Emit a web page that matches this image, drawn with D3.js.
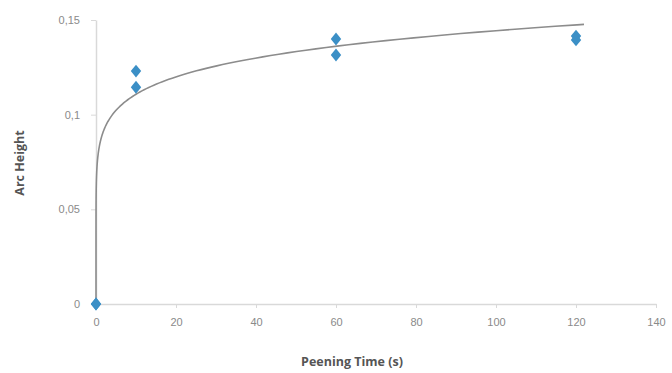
<!DOCTYPE html>
<html>
<head>
<meta charset="utf-8">
<script src="https://cdn.jsdelivr.net/npm/d3@7"></script>
<style>
  body { margin: 0; background: #fff; }
  svg { font-family: "Open Sans", "Liberation Sans", sans-serif; }
</style>
</head>
<body>
<div id="chart"></div>
<script>
// measured points
var peeningTime = [0, 0, 10, 10, 60, 60, 120, 120];
var arcHeight = [0, 0, 0.123, 0.1145, 0.140, 0.1315, 0.1415, 0.1395];

// tick labels
var xTicks = [0, 20, 40, 60, 80, 100, 120, 140];
var yTicks = [0, 0.05, 0.1, 0.15];

// power trendline y = a * x^b
var trendA = 0.085;
var trendB = 0.115;
var trendEnd = 122;

var width = 672, height = 373;
var margin = { left: 96, top: 20, right: 16, bottom: 69 };

var svg = d3.select("#chart").append("svg")
    .attr("width", width)
    .attr("height", height);

var x_scale = d3.scaleLinear().domain([0, 140]).range([margin.left, width - margin.right]);
var y_scale = d3.scaleLinear().domain([0, 0.15]).range([height - margin.bottom, margin.top]);

var fmt = function (d) { return String(d).replace(".", ","); };

// axes
var x_axis = d3.axisBottom(x_scale).tickValues(xTicks).tickSize(4).tickSizeOuter(0).tickPadding(10);
var y_axis = d3.axisLeft(y_scale).tickValues(yTicks).tickSize(5).tickSizeOuter(0).tickPadding(11).tickFormat(fmt);

var gx = svg.append("g")
    .attr("transform", "translate(0," + y_scale(0) + ")")
    .call(x_axis);
var gy = svg.append("g")
    .attr("transform", "translate(" + margin.left + ",0)")
    .call(y_axis);

[gx, gy].forEach(function (g) {
    g.select(".domain").attr("stroke", "#d9d9d9").attr("stroke-width", 1.5);
    g.selectAll(".tick line").attr("stroke", "#d9d9d9");
    g.selectAll(".tick text").attr("fill", "#8a8a8a").style("font-size", "11px");
});

// trendline
var trendX = [0].concat(d3.range(-12, Math.log10(trendEnd), 0.02).map(function (e) { return Math.pow(10, e); }), [trendEnd]);
var line = d3.line()
    .x(function (d) { return x_scale(d); })
    .y(function (d) { return y_scale(d === 0 ? 0 : trendA * Math.pow(d, trendB)); });

svg.append("path")
    .datum(trendX)
    .attr("fill", "none")
    .attr("stroke", "#8c8c8c")
    .attr("stroke-width", 1.6)
    .attr("d", line);

// markers
var diamond = d3.symbol().type(d3.symbolDiamond).size(48);
svg.selectAll(".pt")
    .data(peeningTime)
    .enter()
    .append("path")
    .attr("class", "pt")
    .attr("transform", function (d, i) { return "translate(" + x_scale(d) + "," + y_scale(arcHeight[i]) + ") scale(1.4,1)"; })
    .attr("d", diamond)
    .attr("fill", "#3b8fc6");

// axis titles
svg.append("text")
    .attr("x", 352)
    .attr("y", 366)
    .attr("text-anchor", "middle")
    .attr("fill", "#555")
    .style("font-size", "12.5px")
    .style("font-weight", "bold")
    .text("Peening Time (s)");

svg.append("text")
    .attr("transform", "translate(24," + 163 + ") rotate(-90)")
    .attr("text-anchor", "middle")
    .attr("fill", "#555")
    .style("font-size", "12.5px")
    .style("font-weight", "bold")
    .text("Arc Height");
</script>
</body>
</html>
